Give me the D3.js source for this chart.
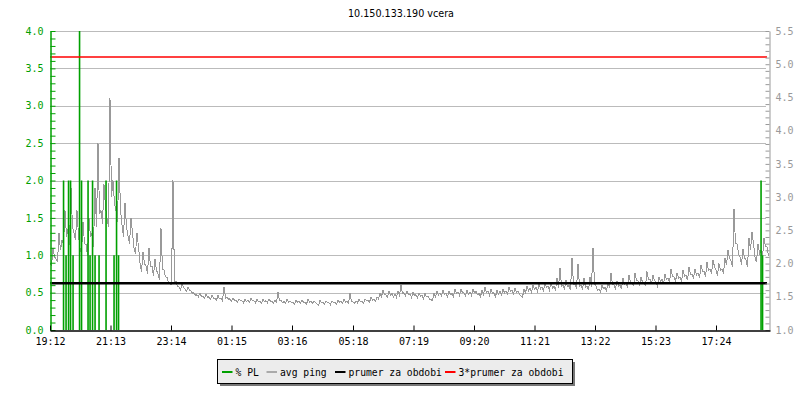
<!DOCTYPE html>
<html>
<head>
<meta charset="utf-8">
<script src="https://cdn.jsdelivr.net/npm/d3@7/dist/d3.min.js"></script>
<style>
  html, body { margin: 0; padding: 0; background: #fff; }
  svg { display: block; }
  text { font-family: "DejaVu Sans Mono", monospace; }
</style>
</head>
<body>
<svg id="chart" width="800" height="400"></svg>
<script>
// ---------------- DATA ----------------
const title = "10.150.133.190 vcera";

// x-axis: minutes since 19:12, tick labels
const xTickMinutes = [0, 121, 242, 363, 484, 606, 727, 848, 969, 1090, 1211, 1332];
const xTickLabels = ["19:12", "21:13", "23:14", "01:15", "03:16", "05:18", "07:19", "09:20", "11:21", "13:22", "15:23", "17:24"];

// left axis (% PL) and right axis (avg ping) tick values
const leftTicks = [0.0, 0.5, 1.0, 1.5, 2.0, 2.5, 3.0, 3.5, 4.0];
const rightTicks = [1.0, 1.5, 2.0, 2.5, 3.0, 3.5, 4.0, 4.5, 5.0, 5.5];

// packet loss samples: minute, value (%)
const plMinutes = [27, 32, 37, 41, 46, 59, 63, 76, 80, 85, 90, 98, 112, 128, 133, 137, 1422, 1425];
const plValues  = [2, 1, 2, 2, 1, 4, 2, 2, 1, 2, 1, 1, 2, 1, 2, 1, 2, 1];

// average ping: samples at minute 0, 6, 12, ... (pingValues)
// and the samples in between at minute 3, 9, 15, ... (pingLow)
const pingStep = 6;
const pingValues = [
  2.01, 2.24, 2.07, 2.46, 2.35, 2.80, 2.52, 3.14, 2.46, 2.80,
  2.24, 2.63, 2.29, 2.69, 2.46, 3.14, 3.81, 2.80, 3.19, 2.69,
  4.49, 3.25, 2.80, 3.59, 2.58, 2.91, 2.41, 2.69, 2.24, 2.46,
  2.01, 2.18, 1.96, 2.24, 1.96, 2.07, 1.84, 2.53, 1.90, 1.79,
  1.70, 3.25, 1.73, 1.65, 1.70, 1.62, 1.65, 1.59, 1.56, 1.53,
  1.56, 1.51, 1.54, 1.50, 1.53, 1.48, 1.52, 1.48, 1.65, 1.50,
  1.47, 1.48, 1.45, 1.47, 1.44, 1.46, 1.45, 1.48, 1.44, 1.46,
  1.43, 1.46, 1.44, 1.47, 1.43, 1.45, 1.57, 1.45, 1.43, 1.46,
  1.44, 1.42, 1.45, 1.43, 1.45, 1.42, 1.46, 1.43, 1.44, 1.39,
  1.45, 1.42, 1.44, 1.41, 1.44, 1.42, 1.45, 1.43, 1.46, 1.43,
  1.55, 1.42, 1.44, 1.46, 1.43, 1.47, 1.45, 1.49, 1.46, 1.50,
  1.55, 1.60, 1.53, 1.58, 1.55, 1.54, 1.58, 1.67, 1.56, 1.59,
  1.54, 1.57, 1.53, 1.56, 1.52, 1.55, 1.51, 1.46, 1.55, 1.58,
  1.56, 1.60, 1.56, 1.59, 1.55, 1.61, 1.57, 1.62, 1.56, 1.60,
  1.57, 1.62, 1.58, 1.55, 1.60, 1.64, 1.58, 1.61, 1.56, 1.60,
  1.58, 1.62, 1.59, 1.65, 1.60, 1.63, 1.59, 1.51, 1.62, 1.66,
  1.63, 1.68, 1.64, 1.70, 1.65, 1.72, 1.66, 1.72, 1.66, 1.78,
  1.93, 1.68, 1.75, 1.67, 2.08, 1.70, 2.00, 1.68, 1.78, 1.66,
  1.80, 2.24, 1.66, 1.62, 1.68, 1.64, 1.70, 1.86, 1.68, 1.74,
  1.68, 1.78, 1.70, 1.82, 1.72, 1.86, 1.74, 1.80, 1.72, 1.88,
  1.76, 1.82, 1.72, 1.80, 1.76, 1.84, 1.78, 1.92, 1.80, 1.86,
  1.80, 1.90, 1.82, 1.94, 1.84, 1.92, 1.86, 1.98, 1.88, 2.02,
  1.92, 2.06, 1.90, 2.00, 1.92, 2.08, 2.20, 2.04, 2.82, 2.30,
  2.10, 2.22, 2.06, 2.38, 2.48, 2.10, 2.30, 2.20, 2.38, 2.25
];
const pingLow = [
  1.96, 2.10, 2.02, 2.20, 2.30, 2.40, 2.28, 2.55, 2.35, 2.42,
  2.15, 2.30, 2.12, 2.40, 2.25, 2.55, 2.75, 2.60, 2.85, 2.55,
  3.00, 2.90, 2.62, 2.80, 2.40, 2.55, 2.30, 2.45, 2.15, 2.25,
  1.88, 2.00, 1.85, 1.95, 1.82, 1.90, 1.76, 1.92, 1.80, 1.72,
  1.68, 1.72, 1.66, 1.60, 1.64, 1.58, 1.60, 1.55, 1.52, 1.50,
  1.50, 1.48, 1.49, 1.46, 1.48, 1.45, 1.47, 1.44, 1.48, 1.46,
  1.43, 1.45, 1.42, 1.44, 1.41, 1.43, 1.42, 1.44, 1.41, 1.43,
  1.40, 1.43, 1.41, 1.43, 1.40, 1.42, 1.44, 1.41, 1.40, 1.42,
  1.41, 1.39, 1.42, 1.40, 1.42, 1.39, 1.42, 1.40, 1.41, 1.37,
  1.41, 1.39, 1.41, 1.38, 1.41, 1.39, 1.42, 1.40, 1.42, 1.40,
  1.43, 1.40, 1.41, 1.43, 1.40, 1.44, 1.42, 1.45, 1.43, 1.47,
  1.50, 1.53, 1.49, 1.52, 1.50, 1.49, 1.52, 1.55, 1.51, 1.53,
  1.49, 1.52, 1.48, 1.51, 1.47, 1.50, 1.46, 1.44, 1.50, 1.53,
  1.51, 1.54, 1.50, 1.53, 1.50, 1.55, 1.52, 1.56, 1.51, 1.54,
  1.52, 1.56, 1.53, 1.50, 1.54, 1.57, 1.52, 1.55, 1.50, 1.54,
  1.53, 1.56, 1.54, 1.58, 1.55, 1.57, 1.54, 1.49, 1.56, 1.59,
  1.57, 1.61, 1.58, 1.62, 1.59, 1.64, 1.60, 1.63, 1.59, 1.64,
  1.66, 1.61, 1.65, 1.60, 1.68, 1.62, 1.66, 1.61, 1.64, 1.60,
  1.65, 1.70, 1.60, 1.57, 1.62, 1.59, 1.64, 1.68, 1.62, 1.66,
  1.62, 1.69, 1.64, 1.72, 1.66, 1.74, 1.67, 1.72, 1.66, 1.76,
  1.69, 1.74, 1.66, 1.72, 1.69, 1.76, 1.71, 1.80, 1.73, 1.78,
  1.73, 1.81, 1.75, 1.84, 1.77, 1.83, 1.78, 1.88, 1.80, 1.90,
  1.84, 1.95, 1.82, 1.90, 1.85, 1.98, 2.08, 1.95, 2.30, 2.15,
  1.98, 2.08, 1.95, 2.20, 2.30, 2.02, 2.15, 2.08, 2.25, 2.12
];

const pingMean = 1.703;          // prumer za obdobi (right axis)
const pingMean3 = 3 * pingMean;  // 3*prumer za obdobi

const legendItems = ["% PL", "avg ping", "prumer za obdobi", "3*prumer za obdobi"];
const legendColors = ["#00a000", "#aaaaaa", "#000000", "#ff0000"];

// ---------------- CHART ----------------
const svg = d3.select("#chart");
const L = 50, R = 770, T = 31, B = 330;
const plotRight = 767;

const x = d3.scaleLinear().domain([0, 1440]).range([L, R]);
const yL = d3.scaleLinear().domain([0, 4]).range([B, T]);
const yR = d3.scaleLinear().domain([1, 5.5]).range([B, T]);

const green = "#00a000";
const gridColor = "#bbbbbb";
const rightColor = "#999999";
const fontSize = "9.7px";

// title
svg.append("text")
  .attr("x", 401).attr("y", 17)
  .attr("text-anchor", "middle")
  .style("font-family", "'DejaVu Sans', sans-serif")
  .style("font-size", "9.6px")
  .attr("fill", "#000")
  .text(title);

// gridlines
svg.append("g").selectAll("line").data(leftTicks.filter(d => d > 0)).join("line")
  .attr("x1", L).attr("x2", 766)
  .attr("y1", d => Math.round(yL(d)) + 0.5).attr("y2", d => Math.round(yL(d)) + 0.5)
  .attr("stroke", gridColor).attr("stroke-width", 1);

// ping line (interleaved samples)
const pingData = [];
pingValues.forEach((v, i) => {
  pingData.push({ m: i * pingStep, v });
  pingData.push({ m: i * pingStep + pingStep / 2, v: pingLow[i] });
});
svg.append("path")
  .datum(pingData)
  .attr("fill", "none")
  .attr("stroke", "#999999")
  .attr("stroke-width", 1)
  .attr("shape-rendering", "crispEdges")
  .attr("d", d3.line().x(d => x(d.m)).y(d => yR(d.v)));

// packet-loss bars (drawn over the ping line)
const plData = plMinutes.map((m, i) => ({ m, v: plValues[i] }));
svg.append("g").selectAll("rect").data(plData).join("rect")
  .attr("x", d => x(d.m) - 0.75)
  .attr("width", 1.6)
  .attr("y", d => yL(d.v))
  .attr("height", d => B - yL(d.v))
  .attr("fill", green);

// mean lines
svg.append("line")
  .attr("x1", L).attr("x2", plotRight)
  .attr("y1", yR(pingMean)).attr("y2", yR(pingMean))
  .attr("stroke", "#000").attr("stroke-width", 2.5);
svg.append("line")
  .attr("x1", L).attr("x2", plotRight)
  .attr("y1", yR(pingMean3)).attr("y2", yR(pingMean3))
  .attr("stroke", "#ff0000").attr("stroke-width", 1.4);

// left axis
const gLeft = svg.append("g").attr("transform", `translate(${L + 0.5},0)`);
gLeft.call(d3.axisLeft(yL).tickValues(d3.range(0, 40.5, 1).map(d => d / 10)).tickSizeInner(-5).tickSizeOuter(0).tickFormat(""));
gLeft.selectAll(".tick line").attr("stroke", green);
gLeft.select(".domain").attr("stroke", green).attr("stroke-width", 1.5);
const gLeftLab = svg.append("g").attr("transform", `translate(${L + 0.5},0)`);
gLeftLab.call(d3.axisLeft(yL).tickValues(leftTicks).tickSize(0).tickPadding(7).tickFormat(d3.format(".1f")));
gLeftLab.select(".domain").remove();
gLeftLab.selectAll("text").attr("fill", green).style("font-size", "10px")
  .style("font-family", "'DejaVu Sans Mono', monospace");

// right axis
const gRight = svg.append("g").attr("transform", `translate(${R - 0.5},0)`);
gRight.call(d3.axisRight(yR).tickValues(d3.range(10, 55.5, 1).map(d => d / 10)).tickSizeInner(-4).tickSizeOuter(0).tickFormat(""));
gRight.selectAll(".tick line").attr("stroke", rightColor);
gRight.select(".domain").attr("stroke", rightColor);
const gRightLab = svg.append("g").attr("transform", `translate(${R - 0.5},0)`);
gRightLab.call(d3.axisRight(yR).tickValues(rightTicks).tickSize(0).tickPadding(6).tickFormat(d3.format(".1f")));
gRightLab.select(".domain").remove();
gRightLab.selectAll("text").attr("fill", rightColor).style("font-size", "10px")
  .style("font-family", "'DejaVu Sans Mono', monospace");

// bottom axis
const gBottom = svg.append("g").attr("transform", `translate(0,${B + 0.5})`);
gBottom.call(d3.axisBottom(x).tickValues(xTickMinutes)
  .tickFormat((d, i) => xTickLabels[i]).tickSizeInner(-5).tickSizeOuter(0).tickPadding(7));
gBottom.select(".domain").attr("stroke", "#000").attr("stroke-width", 1.5);
gBottom.selectAll(".tick line").attr("stroke", "#000");
gBottom.selectAll("text").attr("fill", "#000").style("font-size", "10px")
  .style("font-family", "'DejaVu Sans Mono', monospace");

// legend
const lg = svg.append("g");
lg.append("rect").attr("x", 220).attr("y", 362).attr("width", 355).attr("height", 24).attr("fill", "#777");
lg.append("rect").attr("x", 217.5).attr("y", 359.5).attr("width", 355).attr("height", 24)
  .attr("fill", "#ececec").attr("stroke", "#000").attr("stroke-width", 1);
const legendX = [222, 266.5, 335, 445];
legendItems.forEach((name, i) => {
  lg.append("line")
    .attr("x1", legendX[i]).attr("x2", legendX[i] + 10.5)
    .attr("y1", 372).attr("y2", 372)
    .attr("stroke", legendColors[i]).attr("stroke-width", 2);
  lg.append("text")
    .attr("x", legendX[i] + 13.5).attr("y", 375.5)
    .attr("fill", "#000")
    .style("font-size", fontSize)
    .style("font-family", "'DejaVu Sans Mono', monospace")
    .text(name);
});
</script>
</body>
</html>
